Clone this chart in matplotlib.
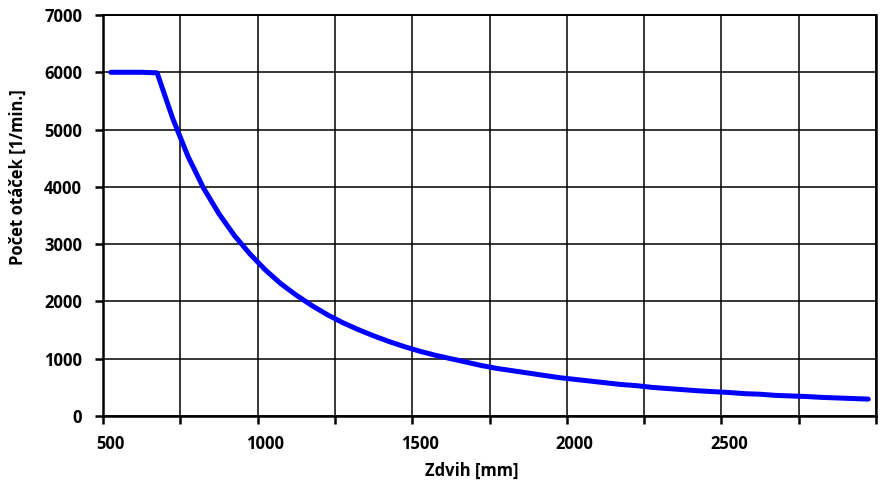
import matplotlib
matplotlib.use("Agg")
import matplotlib.pyplot as plt
import numpy as np

plt.rcParams['font.family'] = ['Open Sans', 'DejaVu Sans']

zdvih = [500, 550, 600, 650, 700, 750, 800, 850, 900, 950,
         1000, 1050, 1100, 1150, 1200, 1250, 1300, 1350, 1400, 1450,
         1500, 1550, 1600, 1650, 1700, 1750, 1800, 1850, 1900, 1950,
         2000, 2050, 2100, 2150, 2200, 2250, 2300, 2350, 2400, 2450,
         2500, 2550, 2600, 2650, 2700, 2750, 2800, 2850, 2900, 2950]
otacky = [6000, 6000, 6000, 5990, 5200, 4530, 3980, 3530, 3150, 2830,
          2550, 2310, 2110, 1930, 1770, 1630, 1510, 1400, 1300, 1210,
          1130, 1060, 1000, 940, 880, 830, 790, 750, 710, 670,
          640, 610, 580, 550, 530, 500, 480, 460, 440, 425,
          410, 390, 380, 360, 350, 340, 325, 315, 305, 295]
x_labels = [500, 1000, 1500, 2000, 2500]
y_ticks = [0, 1000, 2000, 3000, 4000, 5000, 6000, 7000]

fig = plt.figure(figsize=(8.87, 4.95), dpi=100)
ax = fig.add_axes([103/887, 1-416/495, 773/887, 401/495])

ax.plot(zdvih, otacky, color='#0000FF', lw=3.6, solid_capstyle='round', zorder=3)

ax.set_xlim(475, 2975)
ax.set_ylim(0, 7000)

grid_x = np.arange(475, 2976, 250)
ax.set_xticks(grid_x)
ax.set_xticklabels([''] * len(grid_x))
ax.set_xticks(x_labels, minor=True)
ax.set_xticklabels([str(v) for v in x_labels], minor=True)
ax.tick_params(axis='x', which='major', direction='out', length=6, width=1.8, color='black')
ax.tick_params(axis='x', which='minor', length=0, pad=14, labelsize=12)
ax.set_yticks(y_ticks)
ax.set_yticklabels([str(v) for v in y_ticks])
ax.tick_params(axis='y', direction='out', length=6, width=1.8, pad=9, labelsize=12)
for lab in ax.get_xticklabels(minor=True) + ax.get_yticklabels():
    lab.set_fontweight('bold')

ax.grid(True, which='major', color='black', lw=1.1, zorder=1)
for s in ax.spines.values():
    s.set_linewidth(1.8)
    s.set_color('black')
ax.spines['top'].set_linewidth(1.4)

ax.set_xlabel('Zdvih [mm]', fontsize=12, fontweight='bold')
ax.xaxis.set_label_coords((472-103)/773, (416-462)/401)
ax.set_ylabel('Počet otáček [1/min.]', fontsize=12, fontweight='bold')
ax.yaxis.set_label_coords((27-103)/773, (416-177)/401)

fig.savefig('out.png', dpi=100)
